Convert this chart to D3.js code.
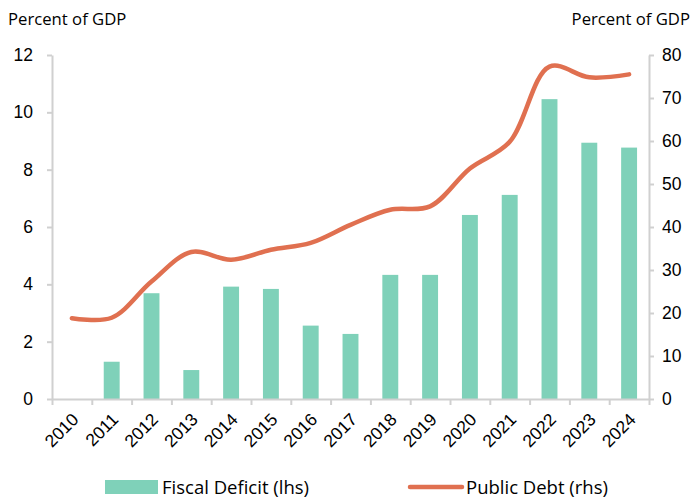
<!DOCTYPE html>
<html>
<head>
<meta charset="utf-8">
<script src="https://cdn.jsdelivr.net/npm/d3@7"></script>
<style>
  body { margin: 0; background: #fff; }
  svg { font-family: "Open Sans", "Noto Sans", sans-serif; }
  .axis path, .axis line { stroke: #d0d0d0; stroke-width: 2; }
  .axis text { fill: #000; font-size: 17.5px; }
</style>
</head>
<body>
<svg id="chart"></svg>
<script>
const years = ['2010', '2011', '2012', '2013', '2014', '2015', '2016', '2017',
  '2018', '2019', '2020', '2021', '2022', '2023', '2024'];
const fiscalDeficit = [0, 1.3, 3.69, 1.01, 3.92, 3.84, 2.56, 2.27, 4.33, 4.33,
  6.42, 7.12, 10.46, 8.94, 8.77];
const publicDebt = [18.8, 18.9, 27.3, 34.2, 32.4, 34.7, 36.3, 40.5, 44, 44.8,
  53.6, 59.8, 77.3, 74.8, 75.5];
const lhsTicks = [0, 2, 4, 6, 8, 10, 12];
const rhsTicks = [0, 10, 20, 30, 40, 50, 60, 70, 80];

const width = 694, height = 498;
const margin = {top: 55, right: 45, bottom: 99, left: 52};

const svg = d3.select('#chart').attr('width', width).attr('height', height);

const x = d3.scaleBand().domain(years)
    .range([margin.left, width - margin.right]).paddingInner(0.6).paddingOuter(0.3);
const xEdge = d3.scaleLinear().domain([0, years.length])
    .range([margin.left, width - margin.right]);
const yL = d3.scaleLinear().domain([0, 12]).range([height - margin.bottom, margin.top]);
const yR = d3.scaleLinear().domain([0, 80]).range([height - margin.bottom, margin.top]);

const barColor = '#7fd1b9', lineColor = '#e07050';

// Bars.
svg.append('g').selectAll('rect')
    .data(years.map((d, i) => ({year: d, v: fiscalDeficit[i]})).filter(d => d.v > 0))
    .join('rect')
    .attr('x', d => x(d.year))
    .attr('width', x.bandwidth())
    .attr('y', d => yL(d.v))
    .attr('height', d => yL(0) - yL(d.v))
    .attr('fill', barColor);

// Left axis.
svg.append('g').attr('class', 'axis')
    .attr('transform', `translate(${margin.left},0)`)
    .call(d3.axisLeft(yL).tickValues(lhsTicks).tickSize(5).tickSizeOuter(0).tickPadding(14));

// Right axis.
svg.append('g').attr('class', 'axis')
    .attr('transform', `translate(${width - margin.right},0)`)
    .call(d3.axisRight(yR).tickValues(rhsTicks).tickSize(5).tickSizeOuter(0).tickPadding(8));

// X axis: ticks at category boundaries.
const gx = svg.append('g').attr('class', 'axis')
    .attr('transform', `translate(0,${height - margin.bottom})`);
gx.call(d3.axisBottom(xEdge).tickValues(d3.range(years.length + 1))
    .tickSize(6).tickSizeOuter(0).tickFormat(''));
gx.selectAll('.xlab').data(years).join('text')
    .attr('class', 'xlab')
    .attr('transform', d => `translate(${x(d) + x.bandwidth() / 2 - 1},13) rotate(-45)`)
    .attr('text-anchor', 'end')
    .attr('dy', '0.7em')
    .text(d => d);

// Line.
const line = d3.line()
    .x((d, i) => x(years[i]) + x.bandwidth() / 2)
    .y(d => yR(d))
    .curve(d3.curveCatmullRom.alpha(0.5));
svg.append('path').datum(publicDebt)
    .attr('d', line)
    .attr('fill', 'none')
    .attr('stroke', lineColor)
    .attr('stroke-width', 4.5)
    .attr('stroke-linecap', 'round');

// Axis titles.
svg.append('text').attr('x', 8).attr('y', 25).style('font-size', '16.7px').text('Percent of GDP');
svg.append('text').attr('x', width - 4).attr('y', 25).attr('text-anchor', 'end')
    .style('font-size', '16.7px').text('Percent of GDP');

// Legend.
const lg = svg.append('g').attr('transform', `translate(0,487)`);
lg.append('rect').attr('x', 105).attr('y', -7).attr('width', 53).attr('height', 14).attr('fill', barColor);
lg.append('text').attr('x', 162).attr('y', 7).style('font-size', '18.5px').text('Fiscal Deficit (lhs)');
lg.append('line').attr('x1', 410).attr('x2', 462).attr('y1', 0).attr('y2', 0)
    .attr('stroke', lineColor).attr('stroke-width', 4.5).attr('stroke-linecap', 'round');
lg.append('text').attr('x', 466).attr('y', 7).style('font-size', '18.5px').text('Public Debt (rhs)');
</script>
</body>
</html>
